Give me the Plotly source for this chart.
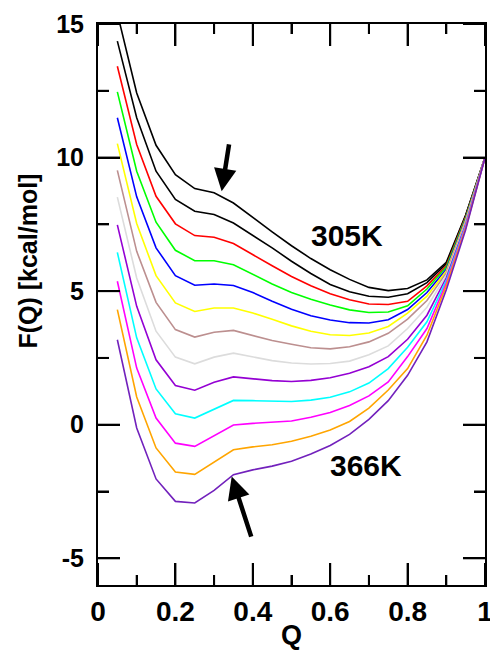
import plotly.graph_objects as go

Q = [0.05, 0.10, 0.15, 0.20, 0.25, 0.30, 0.35, 0.40, 0.45, 0.50,
     0.55, 0.60, 0.65, 0.70, 0.75, 0.80, 0.85, 0.90, 0.95, 1.00]

F_305 = [15.4, 12.42, 10.46, 9.36, 8.84, 8.68, 8.30, 7.75, 7.22, 6.70, 6.22, 5.80, 5.44, 5.14, 5.02, 5.10, 5.42, 6.08, 7.85, 10.0]
F_310 = [14.36, 11.49, 9.49, 8.43, 7.99, 7.87, 7.55, 7.10, 6.62, 6.12, 5.66, 5.25, 4.98, 4.81, 4.77, 4.90, 5.32, 6.02, 7.82, 10.0]
F_315 = [13.42, 10.49, 8.55, 7.52, 7.08, 7.02, 6.78, 6.35, 5.95, 5.55, 5.20, 4.90, 4.68, 4.52, 4.50, 4.62, 5.20, 5.95, 7.78, 10.0]
F_320 = [12.46, 9.49, 7.58, 6.53, 6.14, 6.14, 5.99, 5.62, 5.27, 4.95, 4.70, 4.48, 4.30, 4.20, 4.22, 4.45, 5.08, 5.90, 7.75, 10.0]
F_325 = [11.49, 8.53, 6.62, 5.58, 5.22, 5.27, 5.21, 4.95, 4.62, 4.32, 4.08, 3.92, 3.82, 3.81, 3.93, 4.31, 4.95, 5.82, 7.70, 10.0]
F_330 = [10.52, 7.53, 5.58, 4.56, 4.24, 4.37, 4.37, 4.18, 3.95, 3.70, 3.50, 3.37, 3.34, 3.43, 3.68, 4.18, 4.81, 5.75, 7.65, 10.0]
F_335 = [9.52, 6.49, 4.58, 3.56, 3.28, 3.46, 3.53, 3.35, 3.15, 3.01, 2.88, 2.84, 2.92, 3.10, 3.42, 3.95, 4.65, 5.68, 7.60, 10.0]
F_340 = [8.52, 5.49, 3.50, 2.53, 2.28, 2.53, 2.68, 2.55, 2.40, 2.31, 2.27, 2.29, 2.38, 2.62, 2.95, 3.60, 4.40, 5.60, 7.55, 10.0]
F_345 = [7.48, 4.43, 2.43, 1.47, 1.29, 1.59, 1.79, 1.72, 1.65, 1.62, 1.66, 1.76, 1.93, 2.17, 2.55, 3.20, 4.10, 5.50, 7.50, 10.0]
F_350 = [6.45, 3.25, 1.34, 0.41, 0.25, 0.59, 0.91, 0.90, 0.88, 0.87, 0.92, 1.03, 1.23, 1.56, 2.10, 2.90, 3.85, 5.40, 7.45, 10.0]
F_355 = [5.37, 2.12, 0.25, -0.69, -0.81, -0.41, -0.01, 0.05, 0.10, 0.14, 0.28, 0.46, 0.72, 1.08, 1.60, 2.55, 3.60, 5.30, 7.40, 10.0]
F_360 = [4.31, 1.04, -0.87, -1.77, -1.86, -1.40, -0.94, -0.83, -0.75, -0.62, -0.43, -0.20, 0.12, 0.62, 1.30, 2.10, 3.35, 5.20, 7.35, 10.0]
F_366 = [3.18, -0.12, -2.03, -2.87, -2.93, -2.46, -1.87, -1.69, -1.55, -1.37, -1.10, -0.78, -0.36, 0.20, 0.90, 1.85, 3.10, 5.05, 7.30, 10.0]

series = [F_305, F_310, F_315, F_320, F_325, F_330, F_335,
          F_340, F_345, F_350, F_355, F_360, F_366]
colors = ["#000000", "#000000", "#ff0000", "#00ff00", "#0000ff", "#ffff00",
          "#bc8f8f", "#dcdcdc", "#9400d3", "#00ffff", "#ff00ff", "#ffa500",
          "#7221bc"]

x_tickvals = [0, 0.2, 0.4, 0.6, 0.8, 1.0]
x_ticktext = ["0", "0.2", "0.4", "0.6", "0.8", "1"]
x_minorvals = [0.1, 0.3, 0.5, 0.7, 0.9]
y_tickvals = [-5, 0, 5, 10, 15]
y_ticktext = ["-5", "0", "5", "10", "15"]
y_minorvals = [-2.5, 2.5, 7.5, 12.5]

X_RANGE = [0, 1]
Y_RANGE = [-6, 15]

FONT = "Liberation Sans, Arial, sans-serif"
W, H = 490, 653
ML, MR, MT, MB = 98, 5, 24, 68
MAJOR_PX, MINOR_PX = 22, 10

fig = go.Figure()
for ys, c in zip(series, colors):
    fig.add_trace(go.Scatter(x=Q, y=ys, mode="lines",
                             line=dict(color=c, width=1.6), showlegend=False,
                             hoverinfo="skip"))

# inside tick marks on all four sides as a line trace built from the tick lists
plot_w = W - ML - MR
plot_h = H - MT - MB
x_per_px = (X_RANGE[1] - X_RANGE[0]) / plot_w
y_per_px = (Y_RANGE[1] - Y_RANGE[0]) / plot_h
tx, ty = [], []
for vals, ln in ((x_tickvals, MAJOR_PX), (x_minorvals, MINOR_PX)):
    d = ln * y_per_px
    for v in vals:
        tx += [v, v, None, v, v, None]
        ty += [Y_RANGE[0], Y_RANGE[0] + d, None, Y_RANGE[1], Y_RANGE[1] - d, None]
for vals, ln in ((y_tickvals, MAJOR_PX), (y_minorvals, MINOR_PX + 1)):
    d = ln * x_per_px
    for v in vals:
        tx += [X_RANGE[0], X_RANGE[0] + d, None, X_RANGE[1], X_RANGE[1] - d, None]
        ty += [v, v, None, v, v, None]
fig.add_trace(go.Scatter(x=tx, y=ty, mode="lines", connectgaps=False,
                         line=dict(color="black", width=2), showlegend=False,
                         hoverinfo="skip", cliponaxis=False))

fig.update_layout(
    width=W, height=H,
    margin=dict(l=ML, r=MR, t=MT, b=MB),
    paper_bgcolor="white", plot_bgcolor="white", showlegend=False,
    xaxis=dict(
        range=X_RANGE, tickmode="array", tickvals=x_tickvals, ticktext=x_ticktext,
        ticks="inside", ticklen=MAJOR_PX, tickwidth=2, tickcolor="black",
        showline=True, linecolor="black", linewidth=2, mirror="allticks",
        minor=dict(tickmode="array", tickvals=x_minorvals, ticks="inside",
                   ticklen=MINOR_PX, tickwidth=2, tickcolor="black",
                   showgrid=False),
        showgrid=False, zeroline=False, ticklabeloverflow="allow",
        automargin=False,
        tickfont=dict(family=FONT, size=28, color="black", weight="bold"),
    ),
    yaxis=dict(
        range=Y_RANGE, tickmode="array", tickvals=y_tickvals, ticktext=y_ticktext,
        ticks="inside", ticklen=MAJOR_PX, tickwidth=2, tickcolor="black",
        showline=True, linecolor="black", linewidth=2, mirror="allticks",
        minor=dict(tickmode="array", tickvals=y_minorvals, ticks="inside",
                   ticklen=MINOR_PX + 1, tickwidth=2, tickcolor="black",
                   showgrid=False),
        showgrid=False, zeroline=False, ticklabelstandoff=7,
        ticklabeloverflow="allow", automargin=False,
        tickfont=dict(family=FONT, size=25, color="black", weight="bold"),
    ),
)

annos = [
    dict(text="F(Q) [kcal/mol]", xref="paper", yref="paper",
         x=-0.182, y=0.5775, textangle=-90, showarrow=False,
         xanchor="center", yanchor="middle",
         font=dict(family=FONT, size=25, color="black", weight="bold")),
    dict(text="Q", xref="paper", yref="paper", x=0.5, y=-0.090,
         showarrow=False, xanchor="center", yanchor="middle",
         font=dict(family=FONT, size=27, color="black", weight="bold")),
    dict(text="305K", x=0.643, y=7.08, showarrow=False,
         xanchor="center", yanchor="middle",
         font=dict(family=FONT, size=30, color="black", weight="bold")),
    dict(text="366K", x=0.6925, y=-1.54, showarrow=False,
         xanchor="center", yanchor="middle",
         font=dict(family=FONT, size=30, color="black", weight="bold")),
    dict(text="", x=0.3196, y=8.74, ax=7.6, ay=-48.4, showarrow=True,
         arrowhead=2, arrowsize=1, arrowwidth=4.5, arrowcolor="black"),
    dict(text="", x=0.3455, y=-1.94, ax=20, ay=61.6, showarrow=True,
         arrowhead=2, arrowsize=1, arrowwidth=4.5, arrowcolor="black"),
]
fig.update_layout(annotations=annos)

fig.write_html("out.html")
